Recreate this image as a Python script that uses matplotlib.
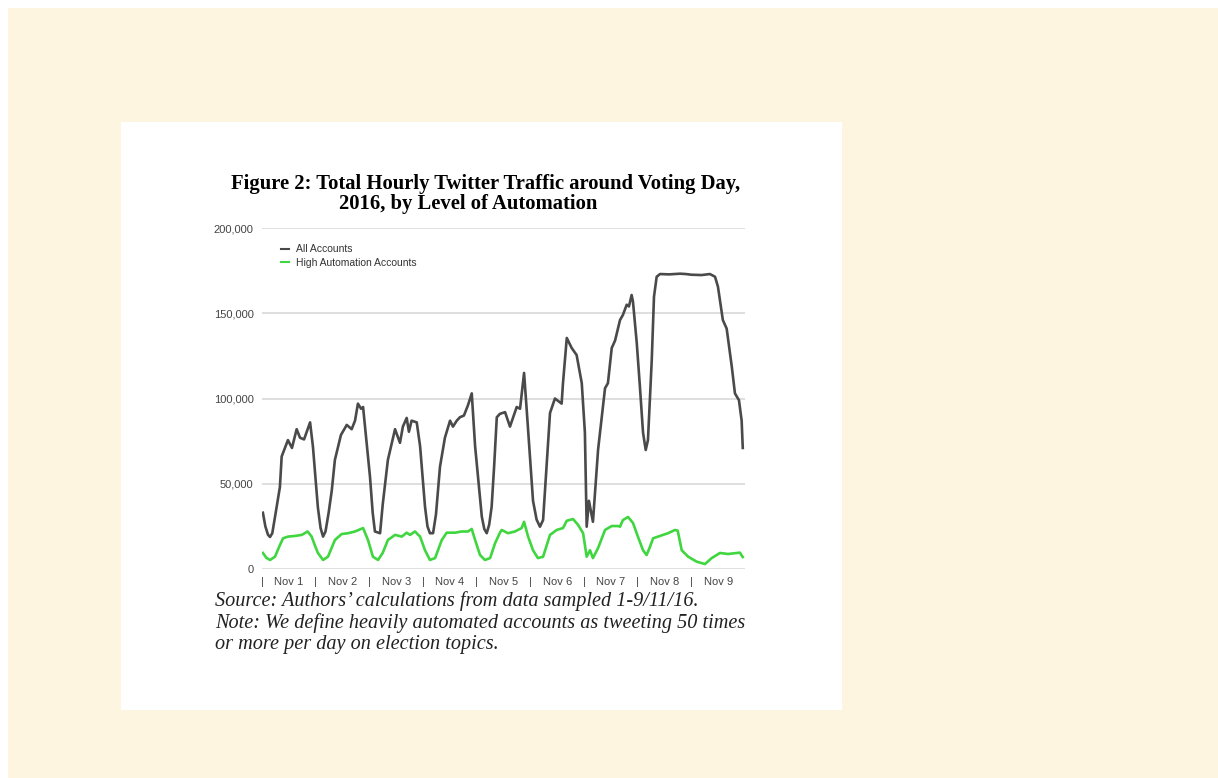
import matplotlib.pyplot as plt
from matplotlib.patches import Rectangle
from matplotlib.ticker import FuncFormatter

# --- Data (hours since Nov 1 00:00) ------------------------------------------
all_hours = [0.4, 1.5, 2.7, 3.6, 4.6, 6.0, 8.0, 8.8, 11.6, 13.4, 15.5, 17.0, 18.8,
             21.5, 22.8, 24.0, 25.0, 26.2, 27.3, 28.4, 29.8, 31.2, 32.6, 35.3,
             37.9, 40.1, 41.6, 42.9, 44.3, 45.2, 48.3, 49.5, 50.5, 52.8, 54.0,
             56.3, 59.5, 61.7, 63.0, 64.7, 65.7, 66.9, 69.2, 70.7, 72.9, 74.0,
             75.1, 76.5, 77.8, 79.6, 81.8, 84.1, 85.4, 87.1, 88.5, 90.3, 92.1,
             93.8, 95.3, 98.3, 99.4, 100.5, 101.6, 102.7, 103.8, 105.0, 106.4,
             108.7, 110.9, 113.9, 115.4, 117.2, 118.4, 121.2, 122.8, 124.3,
             125.7, 127.0, 128.8, 131.0, 134.0, 134.6, 136.3, 138.5, 140.7,
             143.0, 144.4, 145.2, 146.2, 148.0, 150.3, 153.4, 154.7, 156.4,
             157.9, 160.1, 161.4, 163.1, 164.1, 165.3, 165.9, 167.6, 169.0,
             170.4, 171.6, 172.6, 174.3, 175.3, 176.5, 178.0, 182.0, 187.0,
             189.5, 192.0, 196.6, 200.3, 202.6, 203.9, 206.1, 207.8, 210.1,
             211.5, 213.3, 214.5, 215.0]
all_accounts = [33000, 25000, 20000, 18800, 21000, 32000, 48000, 66000, 75600,
                71000, 82000, 77000, 76000, 86000, 71500, 52000, 36000, 24000,
                19000, 22000, 33000, 46000, 64000, 78600, 84500, 82000, 87000,
                97000, 94000, 95000, 54000, 33000, 22000, 21000, 38000, 64000,
                82000, 74000, 83500, 88600, 80500, 87000, 86000, 72000, 36500,
                25000, 21000, 21000, 32000, 60000, 77000, 87000, 83500, 87000,
                89000, 90000, 96000, 103000, 72000, 30700, 23500, 21000, 26000,
                36500, 60000, 89000, 91000, 92000, 83500, 95000, 94000, 115000,
                93000, 40000, 29000, 24800, 28700, 55000, 91500, 100000, 97000,
                109000, 135500, 129600, 125500, 109000, 80000, 24800, 40000,
                27700, 70000, 106000, 109000, 129600, 134000, 146000, 149000,
                155000, 154000, 160700, 156800, 132500, 107000, 80000, 69800,
                75600, 122600, 159700, 171400, 173000, 172800, 173200, 173000,
                172600, 172400, 173000, 171400, 165600, 146000, 141000, 118600,
                103000, 99000, 87000, 71000]

high_hours = [0.4, 2.0, 3.6, 5.8, 8.0, 9.4, 11.6, 14.8, 17.8, 20.4, 22.2, 23.6,
              25.0, 27.3, 29.5, 32.6, 35.6, 38.5, 41.6, 45.2, 47.4, 49.6, 51.9,
              54.0, 56.3, 59.5, 62.5, 64.7, 66.2, 68.4, 70.7, 72.9, 75.1, 77.4,
              80.4, 82.6, 86.3, 89.3, 92.1, 93.8, 95.3, 97.5, 99.7, 102.0, 104.2,
              106.4, 107.2, 110.0, 113.1, 116.1, 117.2, 119.0, 121.2, 123.4,
              125.7, 128.8, 131.8, 134.6, 136.3, 139.1, 141.4, 143.6, 145.2,
              146.7, 148.0, 150.3, 153.4, 156.4, 159.2, 160.1, 161.4, 163.7,
              165.9, 168.1, 170.4, 172.0, 173.5, 174.9, 178.0, 181.6, 184.7,
              185.9, 187.7, 190.6, 194.4, 198.1, 201.1, 204.8, 208.4, 213.7,
              215.0]
high_automation = [9400, 6500, 5300, 7200, 14000, 18000, 19000, 19400, 20000,
                   22000, 19000, 14000, 9400, 5300, 7200, 17000, 20500, 21000,
                   22000, 24000, 17000, 7200, 5300, 9500, 17000, 20000, 19000,
                   21300, 20000, 22000, 19000, 11000, 5300, 6400, 17000, 21300,
                   21300, 22000, 22000, 23500, 17000, 8200, 5300, 6400, 15000,
                   21300, 22900, 21000, 22000, 24000, 27700, 19000, 11000, 6400,
                   7200, 20000, 22900, 24000, 28300, 29300, 25800, 21000, 7200,
                   11000, 6400, 12300, 22900, 25200, 25200, 24800, 28700, 30500,
                   27000, 19000, 11000, 8200, 13000, 18000, 19400, 21000, 22900,
                   22500, 11000, 7200, 4300, 2900, 6400, 9400, 8800, 9600, 7000]

day_labels = ["Nov 1", "Nov 2", "Nov 3", "Nov 4", "Nov 5",
              "Nov 6", "Nov 7", "Nov 8", "Nov 9"]
y_ticks = [0, 50000, 100000, 150000, 200000]

W, H = 1218, 778


def fx(px):
    return px / W


def fy(py):
    return 1 - py / H


# --- Page background ---------------------------------------------------------
fig = plt.figure(figsize=(W / 100, H / 100), dpi=100, facecolor="white")
fig.patches.append(Rectangle((fx(8), 0), 1 - fx(8), fy(8), transform=fig.transFigure,
                             facecolor="#fef5e0", edgecolor="none", zorder=-10))
fig.patches.append(Rectangle((fx(121), fy(710)), fx(842) - fx(121), fy(122) - fy(710),
                             transform=fig.transFigure, facecolor="white",
                             edgecolor="none", zorder=-9))

# --- Chart -------------------------------------------------------------------
ax = fig.add_axes([fx(262), fy(569), fx(745) - fx(262), fy(228) - fy(569)])
ax.set_facecolor("none")
ax.plot(all_hours, all_accounts, color="#4a4a4a", lw=1.9, label="All Accounts",
        solid_joinstyle="round")
ax.plot(high_hours, high_automation, color="#3fd63f", lw=1.9,
        label="High Automation Accounts", solid_joinstyle="round")

ax.set_xlim(0, 216)
ax.set_ylim(0, 200000)
ax.set_yticks(y_ticks)
ax.yaxis.set_major_formatter(FuncFormatter(lambda v, _: f"{int(v):,}"))
ax.grid(axis="y", color="#d6d6d6", lw=1.1)
ax.set_axisbelow(True)
for s in ax.spines.values():
    s.set_visible(False)

ax.set_xticks([12 + 24 * i for i in range(9)])
ax.set_xticklabels(day_labels)
ax.set_xticks([24 * i for i in range(9)], minor=True)
ax.set_xticklabels(["|"] * 9, minor=True)
ax.tick_params(axis="both", which="both", length=0, labelsize=8, labelcolor="#444444")
ax.tick_params(axis="x", which="both", pad=6, labelsize=8)
ax.tick_params(axis="y", pad=6)
for t in ax.get_xticklabels() + ax.get_yticklabels() + ax.get_xticklabels(minor=True):
    t.set_fontfamily("Liberation Sans")

leg = ax.legend(loc="upper left", bbox_to_anchor=(0.02, 0.98), frameon=False,
                handlelength=0.8, handletextpad=0.6, labelspacing=0.35,
                prop={"family": "Liberation Sans", "size": 7.5})
for t in leg.get_texts():
    t.set_color("#333333")
for h in leg.get_lines():
    h.set_linewidth(1.5)

# --- Title and caption -------------------------------------------------------
fig.text(fx(486), fy(184), "Figure 2: Total Hourly Twitter Traffic around Voting Day,",
         ha="center", va="center", family="Liberation Serif", weight="bold",
         size=14.9, color="black")
fig.text(fx(468), fy(204), "2016, by Level of Automation",
         ha="center", va="center", family="Liberation Serif", weight="bold",
         size=14.9, color="black")

caption = ["Source: Authors\u2019 calculations from data sampled 1-9/11/16.",
           "Note: We define heavily automated accounts as tweeting 50 times",
           "or more per day on election topics."]
for i, line in enumerate(caption):
    fig.text(fx(215), fy(601 + 22 * i), line, ha="left", va="center",
             family="Liberation Serif", style="italic", size=14.6, color="#222222")

plt.savefig("out.png", dpi=100, facecolor=fig.get_facecolor())
plt.close(fig)
